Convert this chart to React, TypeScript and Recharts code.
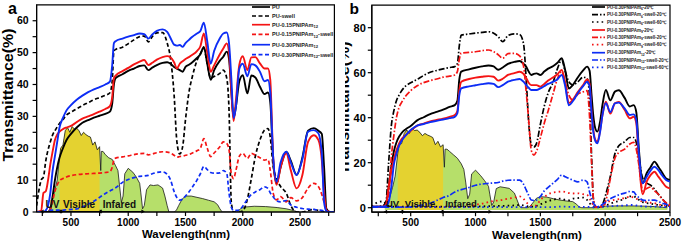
import React from 'react';
import { ComposedChart, Line, Area, XAxis, YAxis, ReferenceArea, ReferenceLine, ReferenceDot, Legend } from 'recharts';

const FONT = '"Liberation Sans", Arial, Helvetica, sans-serif';
const RED = '#f41414';
const BLUE = '#0d2df5';
const BLACK = '#000000';
const GREEN = '#b6df6a';
const YELLOW = '#e4d230';

// ---------------- Panel a data ----------------
const A_WL = [200, 240, 260, 280, 300, 320, 340, 360, 380, 400,
  430, 460, 500, 550, 600, 650, 700, 750, 800, 840,
  860, 875, 890, 950, 1000, 1050, 1100, 1140, 1175, 1210,
  1250, 1300, 1340, 1370, 1400, 1425, 1450, 1475, 1500, 1530,
  1560, 1600, 1630, 1660, 1690, 1720, 1750, 1800, 1830, 1860,
  1880, 1900, 1920, 1940, 1970, 2000, 2040, 2075, 2110, 2150,
  2190, 2220, 2240, 2265, 2295, 2330, 2380, 2420, 2470, 2520,
  2570, 2620, 2660, 2690, 2710, 2730, 2760, 2800];

const A_PU = [0, 0, 0, 0, 0, 1, 5, 10, 14, 17,
  20, 22.5, 24.5, 26.5, 28, 28.8, 29.6, 30.2, 30.8, 31.5,
  34, 40, 42, 43.2, 44.3, 45, 45.8, 46, 44.5, 45.3,
  46.1, 46.8, 47, 46.5, 45.5, 45, 44.5, 44, 45.5, 46.2,
  47, 48.3, 49.5, 51.8, 46.5, 41.5, 44.5, 47.5, 48.7, 50.3,
  48, 38, 29.5, 33, 41, 42.9, 37.2, 42.8, 42.2, 39.3,
  37, 37.5, 34.5, 16.5, 9, 14, 18.9, 16, 11.6, 17,
  25.5, 26.3, 25.5, 24.5, 14, 1, 0, 0];

const A_PU_SWELL = [2, 10, 11, 16, 19.5, 22, 24.2, 25.5, 26.7, 27.8,
  29, 30.4, 31.3, 32.4, 33.4, 34.3, 35.2, 35.9, 36.6, 37.4,
  41, 50.5, 51, 51.7, 52.8, 54, 55, 55.2, 53.4, 55,
  56.2, 56.3, 53, 48, 37, 22, 18.2, 20.5, 29, 37.5,
  42.5, 47.5, 49.7, 51.3, 46.5, 42, 42.5, 43.5, 44.5, 42,
  32, 3, 0, 0, 0, 0.3, 4, 10.5, 17.5, 22.6,
  25.7, 26.2, 23.5, 14.5, 10.5, 8, 5.9, 2, 0, 0,
  0.5, 0.8, 0.5, 0.3, 0, 0, 0, 0];

const A_015 = [0, 0.5, 6, 6.5, 10, 15, 19, 22.6, 24.3, 25.2,
  26, 26.5, 27, 28.2, 29.3, 30, 30.7, 31.5, 32.3, 33.2,
  36, 42, 42.8, 44.2, 45.2, 46.3, 47.2, 47.7, 46.1, 46.8,
  47.8, 48.6, 48.9, 48.5, 47, 45, 46.5, 47.3, 48, 48.6,
  49.3, 50.5, 52, 56, 50, 44, 46, 49.5, 51.3, 52.9,
  50, 38, 28.5, 35, 46.2, 48.9, 44.5, 48.5, 48.6, 46.6,
  45, 45, 41.5, 17.5, 8.5, 14, 18.4, 13, 7.4, 11.5,
  22, 24.1, 22.6, 16.3, 6, 0.5, 0, 0];

const A_015_SWELL = [0, 0, 0, 0, 0.3, 1, 3.5, 6.5, 8.5, 9.8,
  10.5, 11, 11.4, 11.7, 11.9, 12, 12.1, 12.2, 12.4, 12.7,
  14, 16.3, 16.9, 17.3, 17.6, 18, 18.3, 18.4, 17.9, 18.2,
  18.6, 18.9, 18.8, 18.5, 17.8, 17.2, 17.4, 17.5, 17.8, 18,
  18.5, 19.2, 20, 23, 20, 17.4, 18.5, 20.5, 22, 21.5,
  19.5, 12, 10.5, 13, 17.5, 18.4, 16.8, 18.4, 17.8, 17,
  16.3, 16.5, 13, 6, 3.8, 4.8, 3.2, 4.5, 3.5, 4.5,
  7.5, 9, 8, 5.5, 3, 0.6, 0, 0];

const A_030 = [0, 0, 0, 0.5, 2, 6, 13, 17.5, 22, 26.5,
  29.5, 31.8, 33.5, 35.2, 36.5, 37.6, 38.5, 39.2, 40, 40.9,
  46, 53, 53.6, 54.4, 55, 55.5, 56, 55.8, 54.4, 55.7,
  56.8, 57.3, 56.5, 54.5, 52.5, 52.2, 52.4, 51.8, 53, 54,
  55, 56, 56.8, 59.4, 53.5, 46.5, 50.5, 54.5, 56, 56.3,
  53, 42, 29.5, 33, 45, 46.5, 42.6, 46.4, 46, 44,
  41, 41.4, 37.5, 17.5, 9.5, 15.5, 18.9, 15.5, 11.6, 16.5,
  25.2, 25.7, 24.7, 18.4, 3, 0.3, 0, 0];

const A_030_SWELL = [0, 0, 0, 0, 0.2, 0.5, 0.6, 0.6, 0.6, 0.6,
  0.6, 0.7, 0.8, 1, 1.6, 2.4, 3.4, 4.6, 5.8, 6.6,
  7, 7.3, 7.6, 9.3, 10.2, 10.8, 11.2, 11.3, 11.5, 12,
  12.4, 12.6, 11.8, 10, 6.5, 4.5, 3.7, 4, 5, 6.3,
  7.8, 10, 12, 14.3, 13.3, 12.4, 12.2, 12.3, 13, 12.1,
  6, 1.5, 0.5, 0.5, 0.6, 1.8, 4, 5.5, 6.3, 7,
  7.9, 7.4, 6, 4.8, 3.5, 3.2, 3.6, 2.2, 1.5, 1.1,
  0.9, 0.8, 0.6, 0.5, 0.3, 0, 0, 0];

// ---------------- Solar spectrum (scaled, per panel) ----------------
const SOLAR_WL = [300, 320, 340, 360, 380, 400, 410, 430, 450, 470,
  490, 510, 530, 550, 570, 590, 610, 630, 650, 670,
  690, 710, 730, 750, 760, 765, 780, 800, 830, 860,
  890, 910, 925, 940, 955, 970, 1000, 1040, 1070, 1100,
  1110, 1125, 1140, 1160, 1190, 1220, 1260, 1300, 1320, 1340,
  1355, 1400, 1420, 1440, 1470, 1500, 1550, 1600, 1650, 1700,
  1750, 1780, 1800, 1820, 1950, 1980, 2000, 2100, 2200, 2300,
  2380, 2440, 2480];

const SOLAR_A = [0, 1, 4, 7, 10, 17, 20, 21, 25.5, 26.5,
  25, 26.8, 26, 26.3, 25.5, 24, 25, 24.3, 23.8, 23.5,
  21, 22, 19.5, 20.5, 13, 19, 19, 18, 17, 16.5,
  14.5, 13, 8, 3, 5, 12, 13.7, 12.5, 11, 9,
  6, 1, 2, 7, 8.5, 8.3, 8.5, 7.5, 5, 2,
  0, 0, 0.5, 2, 4, 5, 5, 4.6, 4.2, 3.7,
  3.2, 2.3, 1, 0, 0, 1, 1.5, 1.8, 1.7, 1.4,
  1, 0.5, 0];

const SOLAR_B = [0, 1.5, 5, 9, 14, 24, 28, 28.5, 33, 34.5,
  33, 35.3, 34.3, 34.5, 33.5, 32, 33, 32.3, 31.8, 31.2,
  28, 29.5, 27, 28, 18, 26, 26, 25, 23.5, 22,
  19.5, 17, 11, 4, 6, 15, 16.7, 14.2, 12, 9.5,
  6, 1, 2.5, 8.5, 9.3, 9, 8.6, 6.5, 3.5, 0.5,
  0, 0, 0.5, 2, 4.2, 4.9, 4.7, 4, 3.4, 3,
  2.7, 1.5, 0.3, 0, 0, 0.4, 0.7, 0.8, 0.8, 0.7,
  0.5, 0.2, 0];

// ---------------- Panel b data ----------------
const B_WL = [200, 250, 290, 310, 330, 350, 370, 390, 410, 430,
  460, 500, 550, 600, 650, 700, 750, 800, 840, 860,
  875, 890, 950, 1000, 1050, 1100, 1140, 1175, 1210, 1250,
  1300, 1340, 1370, 1390, 1410, 1430, 1450, 1470, 1500, 1530,
  1560, 1600, 1630, 1665, 1690, 1720, 1750, 1790, 1830, 1860,
  1880, 1895, 1910, 1925, 1940, 1960, 1980, 2005, 2040, 2075,
  2105, 2150, 2190, 2220, 2240, 2260, 2290, 2320, 2350, 2380,
  2410, 2440, 2470, 2500];

const B_6_20 = [0.5, 0.5, 0.5, 2, 9, 18, 25, 29, 31.5, 33.2,
  34.8, 36.3, 38.8, 40.2, 41.6, 42.6, 43.6, 44.8, 45.6, 47.5,
  57, 60.5, 61.5, 62.2, 62.8, 63.2, 62.8, 61.3, 62.3, 63.9,
  64.8, 65.2, 64, 62.7, 60.5, 59, 59.5, 59.7, 59, 60.5,
  61.8, 63, 64.3, 66.4, 61.5, 53, 54.5, 58, 61, 62.7,
  60.8, 50, 40, 35, 33.8, 38, 46, 52.3, 47.7, 51.6,
  52.2, 48.8, 45, 45.6, 42.5, 26, 10.8, 15.3, 18, 20.5,
  18.2, 15.5, 13, 12.3];

const B_6_S20 = [0.3, 0.5, 1, 3, 20, 36, 43, 47.5, 50, 52,
  54, 55.5, 57, 58.8, 60.2, 61, 61.7, 62.3, 62.7, 64,
  72, 76.7, 77.2, 77.6, 77.9, 78.2, 77.5, 76, 73.8, 76.5,
  77.3, 77, 73, 58, 38, 28, 27, 28.5, 37, 45,
  51, 56, 61.5, 65.6, 61, 56, 54.5, 56, 58, 57.5,
  49, 23, 3.4, 0.5, 0.4, 0.4, 1.5, 6, 14, 24,
  27.5, 29.3, 31.2, 31.2, 29, 22, 13, 11, 10, 8.3,
  6, 4, 2, 0.4];

const B_6_S60 = [0.5, 2.5, 2.8, 1.5, 0.8, 0.5, 0.5, 0.5, 0.5, 0.5,
  0.5, 0.5, 0.5, 0.5, 0.5, 0.5, 0.5, 0.5, 0.5, 0.5,
  0.5, 0.5, 0.5, 0.6, 0.6, 0.7, 0.7, 0.8, 0.8, 0.9,
  1, 1.2, 1, 0.8, 0.5, 0.5, 0.5, 0.8, 1.5, 2.2,
  3, 3.5, 4, 4, 3.5, 3.3, 4, 4.3, 4.5, 3.5,
  2, 1, 0.5, 0.3, 0.3, 0.3, 0.5, 1, 1.8, 2.5,
  3, 4, 5, 5, 4.5, 3.5, 2.5, 2, 1.8, 1.5,
  1.2, 1, 0.8, 0.5];

const B_9_20 = [0.5, 0.5, 0.5, 1.5, 9.5, 16, 21.5, 25.5, 28.5, 30.5,
  32.2, 34.2, 36.5, 37.4, 38.4, 39, 39.6, 40.4, 41.2, 43,
  52, 56, 57.2, 57.8, 58.2, 58.5, 58.2, 56.5, 57.3, 59,
  59.8, 60.4, 59.5, 57.8, 55.5, 54.5, 54.5, 54.5, 53.8, 55,
  56.5, 58, 59.2, 61.2, 56, 46.5, 48, 51.5, 54.5, 57,
  55, 43, 34, 30, 29.3, 34, 41.5, 47.1, 41.8, 46.4,
  47, 43.5, 39.7, 40.4, 37.5, 21, 6, 11.6, 14.5, 16,
  13.8, 11.5, 9.3, 8.6];

const B_9_S20 = [0.3, 0.3, 0.5, 1, 5, 22, 32, 40, 44.5, 46.8,
  49.5, 52, 54.2, 55.6, 56.5, 57.2, 58, 58.5, 59, 60.5,
  66, 68.7, 69, 69.3, 69.8, 70.1, 69.3, 68, 66.4, 68.5,
  68.6, 67.5, 63, 52, 39, 25.5, 23.4, 25, 31, 37.5,
  43, 51, 57, 60.4, 56, 50, 47.9, 50.5, 51.5, 52,
  40, 20, 3.4, 0.4, 0.3, 0.3, 0.5, 3, 13, 22,
  24.5, 26, 28.3, 29, 26, 19, 7.5, 8.5, 9.2, 7.5,
  6, 3.8, 2.2, 1.2];

const B_9_S60 = [0.3, 0.3, 0.3, 0.3, 0.3, 0.3, 0.3, 0.3, 0.3, 0.3,
  0.3, 0.3, 0.3, 0.3, 0.3, 0.3, 0.3, 0.3, 0.3, 0.3,
  0.3, 0.3, 0.5, 1.3, 1.8, 2.5, 3, 3.2, 3.5, 4,
  4.5, 5, 4, 2.5, 1.5, 0.8, 0.8, 1, 3.5, 4.8,
  6, 6.8, 7, 7.2, 7, 6.5, 6.3, 6.4, 6, 5.7,
  4, 2.5, 1, 0.5, 0.4, 0.5, 1, 2, 3, 3.5,
  3.8, 4.3, 4.9, 4.5, 4, 3.5, 2.7, 2.5, 2.2, 2,
  1.5, 1.2, 1, 0.8];

const B_12_20 = [0.5, 0.5, 0.5, 0.8, 2.5, 9, 19, 24, 27.5, 29.8,
  32, 34.5, 36.5, 37.2, 38, 38.6, 39.2, 39.8, 40.4, 42,
  50, 53, 53.9, 54.4, 54.9, 55.3, 55, 53.6, 54.5, 56,
  56.8, 57.2, 56, 54.6, 53.3, 52.3, 52.3, 52.3, 53, 54,
  55, 56, 57, 59, 54.5, 45.5, 47.3, 51, 54, 56,
  54, 42, 33, 29.5, 28.6, 33.5, 41.5, 46.4, 42.5, 46.4,
  46.7, 44.1, 41.2, 41.5, 39, 24, 10.8, 13.8, 16.5, 18.2,
  16.7, 14.3, 12.3, 11.6];

const B_12_S20 = [0.3, 0.3, 0.3, 0.3, 0.3, 0.3, 0.3, 0.3, 0.3, 0.3,
  0.3, 0.4, 0.8, 1.3, 2, 3.2, 4.5, 5.5, 7, 7.5,
  7.8, 8, 9, 10, 10.5, 10.8, 11, 11.2, 11.8, 12.2,
  12.3, 12.3, 10.5, 8, 5.5, 3.4, 3.2, 3.4, 5, 7.5,
  9, 11, 12.5, 14.5, 13.8, 13, 12.3, 11.5, 12.3, 11.5,
  7, 4, 2, 0.8, 0.4, 0.8, 1.5, 2.5, 4, 5,
  5.7, 6.5, 7.2, 7, 5.5, 4.5, 3.4, 3.2, 3.4, 3.4,
  2.8, 2, 1.5, 0.4];

const B_12_S60 = [0.3, 0.3, 0.3, 0.3, 0.3, 0.3, 0.3, 0.3, 0.3, 0.3,
  0.3, 0.3, 0.3, 0.3, 0.3, 0.3, 0.3, 0.3, 0.3, 0.3,
  0.3, 0.3, 0.3, 0.3, 0.3, 0.3, 0.3, 0.3, 0.3, 0.3,
  0.3, 0.3, 0.3, 0.3, 0.3, 0.3, 0.3, 0.3, 0.3, 0.3,
  0.3, 0.3, 0.4, 0.5, 0.5, 0.4, 0.4, 0.4, 0.4, 0.4,
  0.4, 0.3, 0.2, 0.2, 0.2, 0.3, 0.4, 0.5, 0.6, 0.8,
  0.9, 1, 1.2, 1.2, 1, 0.8, 0.6, 0.5, 0.5, 0.5,
  0.4, 0.4, 0.3, 0.3];

// ---------------- ticks ----------------
const A_X_TICKS = [250, 500, 750, 1000, 1250, 1500, 1750, 2000, 2250, 2500, 2750];
const A_Y_TICKS = [0, 5, 10, 15, 20, 25, 30, 35, 40, 45, 50, 55, 60];
const B_X_TICKS = [250, 500, 750, 1000, 1250, 1500, 1750, 2000, 2250, 2500];
const B_Y_TICKS = [0, 10, 20, 30, 40, 50, 60, 70, 80];

// ---------------- series configs ----------------
type Series = { key: string; values: number[]; color: string; dash?: string; width: number; main: string; sub?: string; tail?: string };

const A_SERIES: Series[] = [
  { key: 'pu', values: A_PU, color: BLACK, width: 1.9, main: 'PU' },
  { key: 'puS', values: A_PU_SWELL, color: BLACK, dash: '4 2.5', width: 1.7, main: 'PU-swell' },
  { key: 'p15', values: A_015, color: RED, width: 1.9, main: 'PU-0.15PNIPAm', sub: '12' },
  { key: 'p15S', values: A_015_SWELL, color: RED, dash: '4 2.5', width: 1.7, main: 'PU-0.15PNIPAm', sub: '12', tail: '-swell' },
  { key: 'p30', values: A_030, color: BLUE, width: 1.9, main: 'PU-0.30PNIPAm', sub: '12' },
  { key: 'p30S', values: A_030_SWELL, color: BLUE, dash: '4 2.5', width: 1.7, main: 'PU-0.30PNIPAm', sub: '12', tail: '-swell' },
];

const DASHDOT = '6 2 1.5 2';
const DOTS = '1.6 3.2';
const B_SERIES: Series[] = [
  { key: 'b6', values: B_6_20, color: BLACK, width: 1.9, main: 'PU-0.30PNIPAm', sub: '6', tail: '-20℃' },
  { key: 'b6s', values: B_6_S20, color: BLACK, dash: DASHDOT, width: 1.7, main: 'PU-0.30PNIPAm', sub: '6', tail: '-swell-20℃' },
  { key: 'b6h', values: B_6_S60, color: BLACK, dash: DOTS, width: 1.8, main: 'PU-0.30PNIPAm', sub: '6', tail: '-swell-60℃' },
  { key: 'b9', values: B_9_20, color: RED, width: 1.9, main: 'PU-0.30PNIPAm', sub: '9', tail: '-20℃' },
  { key: 'b9s', values: B_9_S20, color: RED, dash: DASHDOT, width: 1.7, main: 'PU-0.30PNIPAm', sub: '9', tail: '-swell-20℃' },
  { key: 'b9h', values: B_9_S60, color: RED, dash: DOTS, width: 1.8, main: 'PU-0.30PNIPAm', sub: '9', tail: '-swell-60℃' },
  { key: 'b12', values: B_12_20, color: BLUE, width: 1.9, main: 'PU-0.30PNIPAm', sub: '12', tail: '-20℃' },
  { key: 'b12s', values: B_12_S20, color: BLUE, dash: DASHDOT, width: 1.7, main: 'PU-0.30PNIPAm', sub: '12', tail: '-swell-20℃' },
  { key: 'b12h', values: B_12_S60, color: BLUE, dash: DOTS, width: 1.8, main: 'PU-0.30PNIPAm', sub: '12', tail: '-swell-60℃' },
];

// spectral band annotations (data units)
const BANDS_A = [
  { label: 'UV', from: 262, to: 408, text: 338 },
  { label: 'Visible', from: 418, to: 752, text: 571 },
  { label: 'Infared', from: 768, to: 1115, text: 923 },
];
const BANDS_B = [
  { label: 'UV', from: 318, to: 432, text: 360 },
  { label: 'Visible', from: 440, to: 740, text: 572 },
  { label: 'Infared', from: 752, to: 1100, text: 888 },
];

const buildRows = (wl: number[], series: Series[]) =>
  wl.map((w, i) => {
    const r: Record<string, number> = { wl: w };
    series.forEach((s) => { r[s.key] = s.values[i]; });
    return r;
  });

const tickStyle = (size: number) => ({ fontSize: size, fontWeight: 'bold' as const, fill: '#000', fontFamily: FONT });

const textShape = (label: string, size: number) => (p: any) => (
  <text x={p.cx} y={p.cy} textAnchor="middle" fontSize={size} fontWeight="bold" fontFamily={FONT} fill="#111">{label}</text>
);
const arrowShape = (dir: number) => (p: any) => (
  <polygon points={`${p.cx + dir * 3.5},${p.cy} ${p.cx},${p.cy - 2} ${p.cx},${p.cy + 2}`} fill="#000" />
);

function legendSvg(series: Series[], ys: number[], w: number, h: number, lx1: number, lx2: number, tx: number, fs: number) {
  return (
    <svg width={w} height={h} style={{ display: 'block' }}>
      {series.map((s, i) => (
        <g key={s.key}>
          <line x1={lx1} x2={lx2} y1={ys[i]} y2={ys[i]} stroke={s.color} strokeWidth={1.7} strokeDasharray={s.dash} />
          <text x={tx} y={ys[i] + fs * 0.36} fontSize={fs} fontWeight="bold" fontFamily={FONT} fill="#222">
            {s.main}
            {s.sub ? <tspan dy={fs * 0.3} fontSize={fs * 0.75}>{s.sub}</tspan> : null}
            {s.tail ? <tspan dy={s.sub ? -fs * 0.3 : 0}>{s.tail}</tspan> : null}
          </text>
        </g>
      ))}
    </svg>
  );
}

const LEG_A_Y = [7, 16, 24.7, 34.3, 44.7, 54.7];
const LEG_B_Y = [7, 14.7, 22, 30, 37.3, 44.7, 52.7, 60, 67.3];

function bandMarks(bands: typeof BANDS_A, yArrow: number, yText: number, fs: number, pre: string) {
  const out: any[] = [];
  bands.forEach((b, i) => {
    out.push(<ReferenceLine key={`${pre}l${i}`} segment={[{ x: b.from, y: yArrow }, { x: b.to, y: yArrow }]} stroke="#000" strokeWidth={1.1} ifOverflow="visible" />);
    out.push(<ReferenceDot key={`${pre}a${i}`} x={b.from} y={yArrow} r={0} shape={arrowShape(-1)} ifOverflow="visible" />);
    out.push(<ReferenceDot key={`${pre}b${i}`} x={b.to} y={yArrow} r={0} shape={arrowShape(1)} ifOverflow="visible" />);
    out.push(<ReferenceDot key={`${pre}t${i}`} x={b.text} y={yText} r={0} shape={textShape(b.label, fs)} ifOverflow="visible" />);
  });
  return out;
}

function PanelA() {
  const rows = buildRows(A_WL, A_SERIES);
  const solar = SOLAR_WL.map((wl, i) => ({ wl, s: SOLAR_A[i] }));
  const vis = solar.filter((d) => d.wl >= 400 && d.wl <= 750);
  return (
    <ComposedChart width={340} height={244} margin={{ top: 4.8, right: 5.6, bottom: 0, left: 0.6 }}>
      <XAxis dataKey="wl" type="number" domain={[200, 2800]} ticks={A_X_TICKS} interval={0} allowDataOverflow
        tickFormatter={(v: number) => (v % 500 === 0 ? String(v) : '')} tickSize={4} tickMargin={3}
        tick={tickStyle(10)} stroke="#000" strokeWidth={1.2} height={32}
        label={() => (
          <text x={186} y={238} textAnchor="middle" fontSize={11.5} fontWeight="bold" fontFamily={FONT} fill="#000" textLength={88} lengthAdjust="spacingAndGlyphs">Wavelength(nm)</text>
        )} />
      <YAxis type="number" domain={[0, 65]} ticks={A_Y_TICKS} interval={0} allowDataOverflow width={36}
        tickFormatter={(v: number) => (v % 10 === 0 ? String(v) : '')} tickSize={4} tickMargin={4}
        tick={tickStyle(10.5)} stroke="#000" strokeWidth={1.2}
        label={() => (
          <text x={13} y={95} transform="rotate(-90 13 95)" textAnchor="middle" fontSize={14} fontWeight="bold" fontFamily={FONT} fill="#000" textLength={133} lengthAdjust="spacingAndGlyphs">Transmittance(%)</text>
        )} />
      <Area data={solar} dataKey="s" type="linear" fill={GREEN} fillOpacity={1} stroke="none" baseValue={0} isAnimationActive={false} />
      <Area data={vis} dataKey="s" type="linear" fill={YELLOW} fillOpacity={1} stroke="none" baseValue={0} isAnimationActive={false} />
      <Line data={solar} dataKey="s" type="linear" stroke="#1a1a1a" strokeWidth={0.8} dot={false} activeDot={false} isAnimationActive={false} />
      {A_SERIES.map((s) => (
        <Line key={s.key} data={rows} dataKey={s.key} type="monotone" stroke={s.color} strokeWidth={s.width}
          strokeDasharray={s.dash} dot={false} activeDot={false} isAnimationActive={false} />
      ))}
      {bandMarks(BANDS_A, 0.15, 1.2, 10, 'a')}
      <ReferenceArea x1={200} x2={2800} y1={0} y2={65} fill="none" stroke="#000" strokeWidth={1.2} />
      <Legend layout="vertical" verticalAlign="middle" align="center"
        wrapperStyle={{ left: 250, top: 0, width: 90, height: 62 }}
        content={() => legendSvg(A_SERIES, LEG_A_Y, 90, 62, 2, 20, 22, 5.5)} />
    </ComposedChart>
  );
}

function PanelB() {
  const rows = buildRows(B_WL, B_SERIES);
  const solar = SOLAR_WL.map((wl, i) => ({ wl, s: SOLAR_B[i] }));
  const vis = solar.filter((d) => d.wl >= 400 && d.wl <= 750);
  return (
    <ComposedChart width={340} height={244} margin={{ top: 5.2, right: 15, bottom: 0, left: 0 }}>
      <XAxis dataKey="wl" type="number" domain={[200, 2500]} ticks={B_X_TICKS} interval={0} allowDataOverflow
        tickFormatter={(v: number) => (v % 500 === 0 ? String(v) : '')} tickSize={4} tickMargin={3}
        tick={tickStyle(10)} stroke="#000" strokeWidth={1.2} height={31.8}
        label={() => (
          <text x={192} y={239} textAnchor="middle" fontSize={11.5} fontWeight="bold" fontFamily={FONT} fill="#000" textLength={90} lengthAdjust="spacingAndGlyphs">Wavelength(nm)</text>
        )} />
      <YAxis type="number" domain={[-2, 90]} ticks={B_Y_TICKS} interval={0} allowDataOverflow width={26.8}
        tickFormatter={(v: number) => (v % 20 === 0 ? String(v) : '')} tickSize={4} tickMargin={2}
        tick={tickStyle(11)} stroke="#000" strokeWidth={1.2}
        label={() => (
          <text x={4} y={108} transform="rotate(-90 4 108)" textAnchor="middle" fontSize={14} fontWeight="bold" fontFamily={FONT} fill="#000" textLength={133} lengthAdjust="spacingAndGlyphs">Transmittance(%)</text>
        )} />
      <Area data={solar} dataKey="s" type="linear" fill={GREEN} fillOpacity={1} stroke="none" baseValue={-1} isAnimationActive={false} />
      <Area data={vis} dataKey="s" type="linear" fill={YELLOW} fillOpacity={1} stroke="none" baseValue={-1} isAnimationActive={false} />
      <Line data={solar} dataKey="s" type="linear" stroke="#1a1a1a" strokeWidth={0.8} dot={false} activeDot={false} isAnimationActive={false} />
      {B_SERIES.map((s) => (
        <Line key={s.key} data={rows} dataKey={s.key} type="monotone" stroke={s.color} strokeWidth={s.width}
          strokeDasharray={s.dash} dot={false} activeDot={false} isAnimationActive={false} />
      ))}
      {bandMarks(BANDS_B, -1.8, 0.3, 9.5, 'b')}
      <ReferenceArea x1={200} x2={2500} y1={-2} y2={90} fill="none" stroke="#000" strokeWidth={1.2} />
      <Legend layout="vertical" verticalAlign="middle" align="center"
        wrapperStyle={{ left: 245, top: 0, width: 80, height: 72 }}
        content={() => legendSvg(B_SERIES, LEG_B_Y, 80, 72, 2, 15, 17, 4.5)} />
    </ComposedChart>
  );
}

export default function App() {
  return (
    <div style={{ position: 'absolute', left: 0, top: 0, width: 685, height: 244, background: '#fff', overflow: 'hidden' }}>
      <div style={{ position: 'absolute', left: 0, top: 0, width: 340, height: 244 }}><PanelA /></div>
      <div style={{ position: 'absolute', left: 345, top: 0, width: 340, height: 244 }}><PanelB /></div>
      <svg width={685} height={244} style={{ position: 'absolute', left: 0, top: 0, pointerEvents: 'none' }}>
        <text x={8} y={13.5} fontSize={16} fontWeight="bold" fontFamily={FONT} fill="#000">a</text>
        <text x={349.5} y={14} fontSize={15.5} fontWeight="bold" fontFamily={FONT} fill="#000">b</text>
      </svg>
    </div>
  );
}
